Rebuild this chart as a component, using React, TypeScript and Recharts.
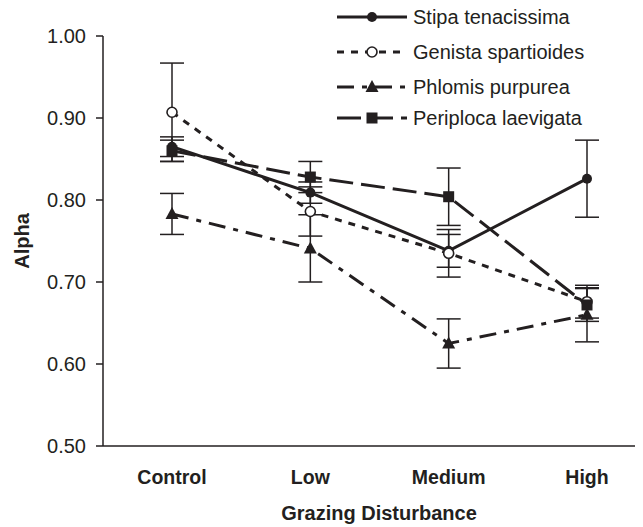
import React from 'react';
import { LineChart, Line, XAxis, YAxis, ErrorBar, Label } from 'recharts';

const categories = ['Control', 'Low', 'Medium', 'High'];

const stipa = [0.865, 0.809, 0.738, 0.826];
const stipaErr = [0.012, 0.013, 0.02, 0.047];
const genista = [0.907, 0.786, 0.735, 0.676];
const genistaErr = [0.06, 0.03, 0.029, 0.02];
const phlomis = [0.783, 0.741, 0.625, 0.66];
const phlomisErr = [0.025, 0.041, 0.03, 0.033];
const periploca = [0.86, 0.828, 0.804, 0.672];
const periplocaErr = [0.013, 0.019, 0.035, 0.02];

const yTicks = [0.5, 0.6, 0.7, 0.8, 0.9, 1.0];

const INK = '#231f20';
const FONT = '"Liberation Sans", Arial, sans-serif';

const data = categories.map((name, i) => ({
    name,
    stipa: stipa[i], stipaErr: stipaErr[i],
    genista: genista[i], genistaErr: genistaErr[i],
    phlomis: phlomis[i], phlomisErr: phlomisErr[i],
    periploca: periploca[i], periplocaErr: periplocaErr[i],
}));

type Shape = 'circle' | 'open' | 'triangle' | 'square';

const Marker = ({ cx, cy, shape }: { cx: number; cy: number; shape: Shape }) => {
    if (shape === 'circle') return <circle cx={cx} cy={cy} r={5} fill={INK} />;
    if (shape === 'open') return <circle cx={cx} cy={cy} r={5} fill="#fff" stroke={INK} strokeWidth={1.6} />;
    if (shape === 'triangle') return <polygon points={`${cx},${cy - 7} ${cx + 6.5},${cy + 5} ${cx - 6.5},${cy + 5}`} fill={INK} />;
    return <rect x={cx - 5.5} y={cy - 5.5} width={11} height={11} fill={INK} />;
};

const series = [
    { key: 'stipa', label: 'Stipa tenacissima', dash: undefined, shape: 'circle' as Shape, y: 17 },
    { key: 'genista', label: 'Genista spartioides', dash: '7 7', shape: 'open' as Shape, y: 52 },
    { key: 'phlomis', label: 'Phlomis purpurea', dash: '17 8 5 8', shape: 'triangle' as Shape, y: 87 },
    { key: 'periploca', label: 'Periploca laevigata', dash: '24 8', shape: 'square' as Shape, y: 118 },
];

const dotFor = (key: string, shape: Shape) => (props: any) => (
    <Marker key={`${key}-${props.index}`} cx={props.cx} cy={props.cy} shape={shape} />
);

// legend sits in the empty top-right corner, outside recharts' layout
const LegendBox = () => (
    <svg width={300} height={140} style={{ position: 'absolute', left: 329, top: -8 }}>
        {series.map((s) => (
            <g key={s.key}>
                <line x1={0} x2={70} y1={s.y} y2={s.y} stroke={INK} strokeWidth={3} strokeDasharray={s.dash} />
                <Marker cx={35} cy={s.y} shape={s.shape} />
                <text x={76} y={s.y + 7} fontSize={20} fontFamily={FONT} fill={INK}>{s.label}</text>
            </g>
        ))}
    </svg>
);

const App = () => (
    <div style={{ position: 'relative', width: 635, height: 519 }}>
        <LineChart width={635} height={519} data={data} margin={{ top: 28, right: 0, left: 0, bottom: 0 }}>
            <XAxis
                dataKey="name"
                padding={{ left: 69, right: 56 }}
                axisLine={{ stroke: INK, strokeWidth: 1.5 }}
                tickLine={false}
                tickSize={6}
                tickMargin={18}
                interval={0}
                height={81}
                tick={{ fill: INK, fontSize: 19.5, fontWeight: 'bold', fontFamily: FONT }}
            >
                <Label
                    content={({ viewBox }: any) => (
                        <text x={viewBox.x + viewBox.width / 2 + 6} y={viewBox.y + 74} textAnchor="middle"
                            fontSize={20} fontWeight="bold" fontFamily={FONT} fill={INK}>Grazing Disturbance</text>
                    )}
                />
            </XAxis>
            <YAxis
                type="number"
                domain={[0.5, 1]}
                ticks={yTicks}
                width={95}
                tickFormatter={(v: number) => v.toFixed(2)}
                axisLine={{ stroke: INK, strokeWidth: 1.5 }}
                tickLine={{ stroke: INK, strokeWidth: 1.5 }}
                tickSize={7}
                tickMargin={10}
                tick={{ fill: INK, fontSize: 20, fontFamily: FONT }}
            >
                <Label
                    content={({ viewBox }: any) => {
                        const cx = viewBox.x + 14;
                        const cy = viewBox.y + viewBox.height / 2;
                        return (
                            <text x={cx} y={cy} transform={`rotate(-90 ${cx} ${cy})`} textAnchor="middle"
                                dominantBaseline="central" fontSize={20} fontWeight="bold" fontFamily={FONT} fill={INK}>Alpha</text>
                        );
                    }}
                />
            </YAxis>
            {series.map((s) => (
                <Line
                    key={s.key}
                    dataKey={s.key}
                    stroke={INK}
                    strokeWidth={3}
                    strokeDasharray={s.dash}
                    dot={dotFor(s.key, s.shape)}
                    activeDot={false}
                    isAnimationActive={false}
                >
                    <ErrorBar dataKey={`${s.key}Err`} width={12} stroke={INK} strokeWidth={1.5} direction="y" isAnimationActive={false} />
                </Line>
            ))}
        </LineChart>
        <LegendBox />
    </div>
);

export default App;
